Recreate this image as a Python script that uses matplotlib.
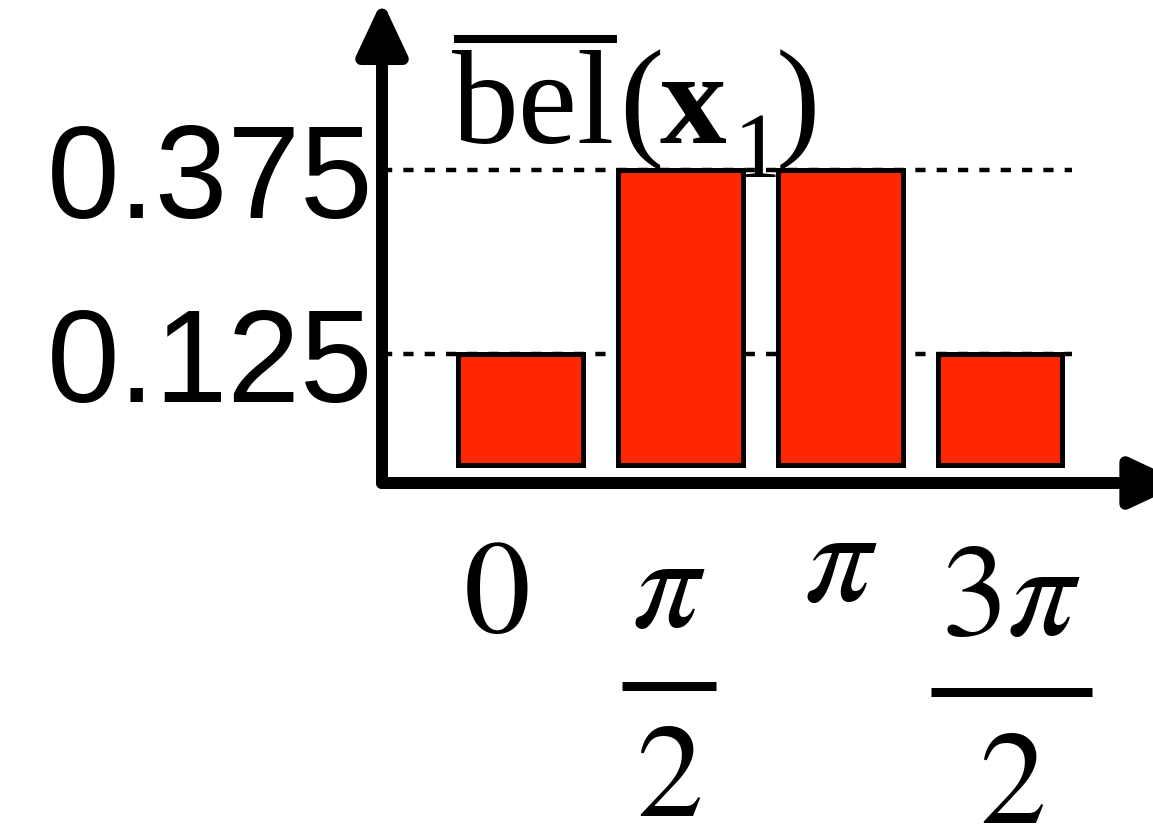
import matplotlib.pyplot as plt
import matplotlib.transforms as mtransforms
from matplotlib.patches import FancyArrowPatch
from matplotlib.lines import Line2D

plt.rcParams['mathtext.fontset'] = 'stix'
plt.rcParams['font.family'] = ['Liberation Sans', 'DejaVu Sans']

# belief over the four headings
headings = ['0', 'pi/2', 'pi', '3pi/2']
belief = [0.125, 0.375, 0.375, 0.125]

# reference levels shown on the y axis
ref_levels = [0.125, 0.375]
ref_labels = ['0.125', '0.375']

# x labels drawn as stacked fractions (numerator, denominator)
label_num = [r'$0$', r'$\pi$', r'$\pi$', r'$3\pi$']
label_den = [None, r'$2$', None, r'$2$']

W, H = 1153, 833
fig = plt.figure(figsize=(W / 100, H / 100), dpi=100)
ax = fig.add_axes([382 / W, 1 - 483 / H, (W - 382) / W, (483 - 10) / H])
ax.set_xlim(-0.868, 3.957)
ax.set_ylim(-0.0503, 0.5924)
for s in ax.spines.values():
    s.set_visible(False)

# bars start a little above the x axis line
base = -0.026
xpos = list(range(len(belief)))
ax.bar(xpos, [b - base for b in belief], bottom=base, width=0.78,
       color='#ff2600', edgecolor='black', linewidth=3.6, zorder=3)

# dashed reference lines
for lvl in ref_levels:
    ax.axhline(lvl, xmin=0, xmax=0.895, color='black', lw=3.2,
               dashes=(2.3, 2.5), zorder=2)

ax.set_yticks(ref_levels, ref_labels, fontsize=94)
ax.tick_params(axis='y', length=0, pad=6)
ax.set_xticks([])

# axis arrows
arrow_kw = dict(arrowstyle='-|>,head_length=32,head_width=15', mutation_scale=1,
                lw=8.6, color='black', shrinkA=0, shrinkB=0,
                transform=ax.transAxes, clip_on=False, zorder=5)
ax.add_patch(FancyArrowPatch((0, 0), (0, 1.02), **arrow_kw))
ax.add_patch(FancyArrowPatch((0, 0), (1.04, 0), **arrow_kw))

# x labels: x in data coords, y in figure coords
trans = mtransforms.blended_transform_factory(ax.transData, fig.transFigure)
label_x = [-0.155, 0.928, 2.0, 3.07]
num_base = [632, 627, 601, 635]
den_base = [None, 816, None, 823]
bar_y = [None, 685.5, None, 692]
bar_half = [None, 0.294, None, 0.504]
for i in range(len(headings)):
    ax.text(label_x[i], 1 - num_base[i] / H, label_num[i], transform=trans,
            fontsize=96, ha='center', va='baseline')
    if label_den[i] is not None:
        ax.text(label_x[i], 1 - den_base[i] / H, label_den[i], transform=trans,
                fontsize=96, ha='center', va='baseline')
        ax.add_line(Line2D([label_x[i] - bar_half[i], label_x[i] + bar_half[i]],
                           [1 - bar_y[i] / H] * 2, transform=trans, color='black',
                           lw=6.5, solid_capstyle='butt', clip_on=False))

# title: overlined "bel" followed by (x_1)
serif = 'Liberation Serif'
fig.text(452 / W, 1 - 143 / H, 'bel', family=serif, fontsize=96, va='baseline')
fig.add_artist(Line2D([454 / W, 617 / W], [1 - 39 / H] * 2, color='black',
                      lw=5.8, solid_capstyle='butt'))
fig.text(619 / W, 1 - 143 / H, '(', family=serif, fontsize=96, va='baseline')
fig.text(660 / W, 1 - 143 / H, 'x', family=serif, fontweight='bold',
         fontsize=96, va='baseline')
fig.text(734 / W, 1 - 177 / H, '1', family=serif, fontsize=68, va='baseline')
fig.text(776 / W, 1 - 143 / H, ')', family=serif, fontsize=96, va='baseline')

fig.savefig('out.png', dpi=100)
